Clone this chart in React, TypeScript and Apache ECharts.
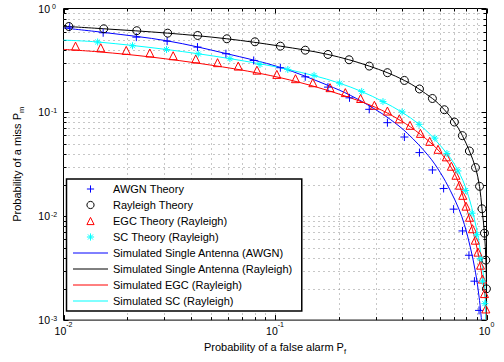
import React, { useEffect, useRef } from 'react';
import * as echarts from 'echarts';

// ---------------- data (Pf, Pm) ----------------
const legendNames = [
  'AWGN Theory',
  'Rayleigh Theory',
  'EGC Theory (Rayleigh)',
  'SC Theory (Rayleigh)',
  'Simulated Single Antenna (AWGN)',
  'Simulated Single Antenna (Rayleigh)',
  'Simulated EGC (Rayleigh)',
  'Simulated SC (Rayleigh)',
];

const awgnTheory = [
  [0.0107, 0.661], [0.0154, 0.584], [0.0221, 0.53], [0.0309, 0.485], [0.043, 0.425],
  [0.0586, 0.367], [0.0793, 0.316], [0.106, 0.269], [0.139, 0.22], [0.178, 0.175],
  [0.225, 0.138], [0.279, 0.107], [0.34, 0.0796], [0.409, 0.0579], [0.482, 0.041],
  [0.555, 0.0279], [0.627, 0.0185], [0.699, 0.0117], [0.77, 0.00722], [0.826, 0.00421],
  [0.877, 0.00237], [0.922, 0.00124],
];

const rayleighTheory = [
  [0.0106, 0.671], [0.0155, 0.638], [0.0222, 0.611], [0.0311, 0.579], [0.0431, 0.55],
  [0.0592, 0.511], [0.0804, 0.478], [0.106, 0.434], [0.139, 0.397], [0.178, 0.361],
  [0.224, 0.321], [0.279, 0.279], [0.34, 0.241], [0.409, 0.203], [0.482, 0.168],
  [0.555, 0.136], [0.632, 0.106], [0.705, 0.0807], [0.769, 0.0597], [0.83, 0.0425],
  [0.887, 0.0294], [0.927, 0.0194], [0.952, 0.0118], [0.978, 0.00687], [0.993, 0.00378],
  [0.999, 0.002],
];

const egcTheory = [
  [0.0114, 0.434], [0.015, 0.419], [0.0198, 0.395], [0.0256, 0.373], [0.033, 0.351],
  [0.0422, 0.327], [0.0535, 0.301], [0.067, 0.279], [0.0822, 0.255], [0.102, 0.232],
  [0.125, 0.211], [0.151, 0.193], [0.182, 0.173], [0.215, 0.155], [0.254, 0.136],
  [0.295, 0.117], [0.34, 0.103], [0.387, 0.0866], [0.435, 0.075], [0.487, 0.0628],
  [0.539, 0.0526], [0.59, 0.0441], [0.646, 0.0373], [0.682, 0.0303], [0.717, 0.0248],
  [0.745, 0.0199], [0.772, 0.0159], [0.8, 0.0125], [0.831, 0.00978], [0.858, 0.00758],
  [0.885, 0.00588], [0.911, 0.00451], [0.937, 0.00338], [0.957, 0.00248], [0.978, 0.0018],
  [0.993, 0.00128],
];

const scTheory = [
  [0.0145, 0.476], [0.0212, 0.438], [0.0307, 0.403], [0.0434, 0.365], [0.0612, 0.329],
  [0.0849, 0.289], [0.115, 0.259], [0.153, 0.227], [0.202, 0.191], [0.257, 0.159],
  [0.324, 0.127], [0.399, 0.101], [0.48, 0.0767], [0.57, 0.0565], [0.65, 0.0402],
  [0.733, 0.0273], [0.797, 0.0177], [0.854, 0.0107], [0.897, 0.00664], [0.932, 0.0039],
  [0.957, 0.00237], [0.982, 0.00144],
];

const awgnSim = [
  [0.01, 0.649], [0.0155, 0.588], [0.0311, 0.487], [0.0585, 0.369], [0.106, 0.271],
  [0.178, 0.182], [0.227, 0.146], [0.291, 0.11], [0.351, 0.0855], [0.422, 0.063],
  [0.531, 0.0383], [0.605, 0.0263], [0.675, 0.0176], [0.741, 0.0117], [0.786, 0.00832],
  [0.84, 0.00495], [0.887, 0.00289], [0.923, 0.00166], [0.947, 0.001],
];

const rayleighSim = [
  [0.01, 0.675], [0.0155, 0.638], [0.0311, 0.579], [0.0592, 0.511], [0.106, 0.434],
  [0.178, 0.361], [0.279, 0.279], [0.409, 0.203], [0.555, 0.136], [0.632, 0.106],
  [0.705, 0.0807], [0.769, 0.0597], [0.83, 0.0425], [0.887, 0.0294], [0.927, 0.0194],
  [0.952, 0.0118], [0.978, 0.00687], [0.993, 0.00378], [0.999, 0.002], [0.9998, 0.001],
];

const egcSim = [
  [0.01, 0.404], [0.0148, 0.382], [0.0256, 0.342], [0.0492, 0.286], [0.0849, 0.237],
  [0.131, 0.194], [0.203, 0.149], [0.298, 0.112], [0.391, 0.0838], [0.487, 0.0614],
  [0.605, 0.0412], [0.713, 0.0248], [0.795, 0.013], [0.858, 0.0075], [0.917, 0.00422],
  [0.957, 0.00248], [0.989, 0.00159], [0.998, 0.001],
];

const scSim = [
  [0.01, 0.496], [0.0145, 0.476], [0.0307, 0.403], [0.0612, 0.329], [0.115, 0.259],
  [0.202, 0.191], [0.324, 0.127], [0.48, 0.0767], [0.65, 0.0402], [0.753, 0.0248],
  [0.822, 0.0156], [0.877, 0.00936], [0.922, 0.00562], [0.957, 0.00323], [0.982, 0.00199],
  [0.993, 0.001],
];

// ---------------- ticks / grid ----------------
const xTickExponents = ['-2', '-1', '0'];
const yTickExponents = ['-3', '-2', '-1', '0'];
const xMajorTicks = [0.01, 0.1, 1];
const xMinorTicks = [0.02, 0.03, 0.04, 0.05, 0.06, 0.07, 0.08, 0.09, 0.2, 0.3, 0.4, 0.5, 0.6, 0.7, 0.8, 0.9];
const yMajorTicks = [0.001, 0.01, 0.1, 1];
const yMinorTicks = [
  0.002, 0.003, 0.004, 0.005, 0.006, 0.007, 0.008, 0.009,
  0.02, 0.03, 0.04, 0.05, 0.06, 0.07, 0.08, 0.09,
  0.2, 0.3, 0.4, 0.5, 0.6, 0.7, 0.8, 0.9,
];

const FONT = 'Liberation Sans, Arial, Helvetica, sans-serif';
const GRID_COLOR = '#8f8f8f';

const plusPath = 'path://M0,4H8M4,0V8';
const starPath = 'path://M0,4H8M4,0V8M1.2,1.2L6.8,6.8M6.8,1.2L1.2,6.8';

function markerSeries(name: string, data: number[][], symbol: string, size: number | number[], color: string) {
  return {
    name,
    type: 'line',
    data,
    symbol,
    symbolSize: size,
    showSymbol: true,
    showAllSymbol: true,
    silent: true,
    z: 3,
    itemStyle: { color: 'none', borderColor: color, borderWidth: 1 },
    lineStyle: { color, width: 1, opacity: 0 },
  };
}

function lineSeries(name: string, data: number[][], color: string) {
  return {
    name,
    type: 'line',
    data,
    symbol: 'none',
    smooth: 0.35,
    silent: true,
    z: 3,
    itemStyle: { color, opacity: 0 },
    lineStyle: { color, width: 1 },
  };
}

function gridRender(isX: boolean) {
  return (params: any, api: any) => {
    const cs = params.coordSys;
    const p = api.coord([api.value(0), api.value(1)]);
    const major = api.value(2) === 1;
    const len = major ? 5 : 3;
    const children: any[] = [];
    const tickStyle = { stroke: '#000', lineWidth: 1 };
    if (isX) {
      const x = Math.round(p[0]) + 0.5;
      const top = cs.y;
      const bottom = cs.y + cs.height;
      if (x > cs.x + 1 && x < cs.x + cs.width - 1) {
        children.push({ type: 'line', shape: { x1: x, y1: top, x2: x, y2: bottom }, style: { stroke: GRID_COLOR, lineWidth: 1, lineDash: [1, 4] } });
      }
      children.push({ type: 'line', shape: { x1: x, y1: bottom, x2: x, y2: bottom - len }, style: tickStyle });
      children.push({ type: 'line', shape: { x1: x, y1: top, x2: x, y2: top + len }, style: tickStyle });
    } else {
      const y = Math.round(p[1]) + 0.5;
      const left = cs.x;
      const right = cs.x + cs.width;
      if (y > cs.y + 1 && y < cs.y + cs.height - 1) {
        children.push({ type: 'line', shape: { x1: left, y1: y, x2: right, y2: y }, style: { stroke: GRID_COLOR, lineWidth: 1, lineDash: [1, 4] } });
      }
      children.push({ type: 'line', shape: { x1: left, y1: y, x2: left + len, y2: y }, style: tickStyle });
      children.push({ type: 'line', shape: { x1: right, y1: y, x2: right - len, y2: y }, style: tickStyle });
    }
    return { type: 'group', children };
  };
}

export default function App() {
  const ref = useRef<HTMLDivElement>(null);

  useEffect(() => {
    const chart = echarts.init(ref.current as HTMLDivElement, null, { renderer: 'svg' });

    const option: any = {
      animation: false,
      backgroundColor: '#fff',
      textStyle: { fontFamily: FONT },
      grid: {
        left: 63.5,
        top: 8.5,
        right: 17.5,
        bottom: 41.5,
        show: true,
        borderColor: '#000',
        borderWidth: 1,
        backgroundColor: 'transparent',
      },
      xAxis: {
        type: 'log',
        logBase: 10,
        min: 0.01,
        max: 1,
        axisLine: { show: false },
        axisTick: { show: false },
        splitLine: { show: false },
        axisLabel: {
          margin: 1,
          color: '#000',
          formatter: (_v: number, i: number) => `{b|10}{s|${xTickExponents[i]}}`,
          rich: {
            b: { fontSize: 10.5, lineHeight: 11, padding: [8, 0, 0, 0], fontFamily: FONT, color: '#000' },
            s: { fontSize: 7, lineHeight: 10, verticalAlign: 'top', fontFamily: FONT, color: '#000' },
          },
        },
        name: '{a|Probability of a false alarm P}{sub|f}',
        nameLocation: 'middle',
        nameGap: 21,
        nameTextStyle: {
          rich: {
            a: { fontSize: 11, lineHeight: 12, padding: [0, 0, 5, 0], fontFamily: FONT, color: '#000' },
            sub: { fontSize: 7.5, lineHeight: 8, verticalAlign: 'bottom', fontFamily: FONT, color: '#000' },
          },
        },
      },
      yAxis: {
        type: 'log',
        logBase: 10,
        min: 0.001,
        max: 1,
        axisLine: { show: false },
        axisTick: { show: false },
        splitLine: { show: false },
        axisLabel: {
          margin: 5.5,
          color: '#000',
          formatter: (_v: number, i: number) => `{b|10}{s|${yTickExponents[i]}}`,
          rich: {
            b: { fontSize: 10.5, lineHeight: 11, padding: [3, 0, 3, 0], fontFamily: FONT, color: '#000' },
            s: { fontSize: 7, lineHeight: 8, verticalAlign: 'top', width: 8, align: 'left', fontFamily: FONT, color: '#000' },
          },
        },
        name: '{a|Probability of a miss P}{sub|m}',
        nameLocation: 'middle',
        nameGap: 28,
        nameTextStyle: {
          rich: {
            a: { fontSize: 11, lineHeight: 12, padding: [0, 0, 5, 0], fontFamily: FONT, color: '#000' },
            sub: { fontSize: 7.5, lineHeight: 8, verticalAlign: 'bottom', fontFamily: FONT, color: '#000' },
          },
        },
      },
      legend: {
        show: true,
        orient: 'vertical',
        left: 66.5,
        top: 179,
        data: legendNames,
        selectedMode: false,
        backgroundColor: '#fff',
        borderColor: '#000',
        borderWidth: 1.5,
        padding: [3, 9, 3, 6],
        itemWidth: 35,
        itemHeight: 9,
        itemGap: 2,
        itemStyle: { borderWidth: 1 },
        lineStyle: { width: 1 },
        textStyle: { fontFamily: FONT, fontSize: 11, color: '#000', lineHeight: 14 },
      },
      series: [
        {
          type: 'custom',
          coordinateSystem: 'cartesian2d',
          silent: true,
          z: 1,
          renderItem: gridRender(true),
          data: [...xMinorTicks.map((v) => [v, 1, 0]), ...xMajorTicks.map((v) => [v, 1, 1])],
        },
        {
          type: 'custom',
          coordinateSystem: 'cartesian2d',
          silent: true,
          z: 1,
          renderItem: gridRender(false),
          data: [...yMinorTicks.map((v) => [0.01, v, 0]), ...yMajorTicks.map((v) => [0.01, v, 1])],
        },
        markerSeries(legendNames[0], awgnTheory, plusPath, 8, '#0000ff'),
        markerSeries(legendNames[1], rayleighTheory, 'circle', 8, '#000000'),
        markerSeries(legendNames[2], egcTheory, 'triangle', [8, 8], '#ff0000'),
        markerSeries(legendNames[3], scTheory, starPath, 7, '#00ffff'),
        lineSeries(legendNames[4], awgnSim, '#0000ff'),
        lineSeries(legendNames[5], rayleighSim, '#000000'),
        lineSeries(legendNames[6], egcSim, '#ff0000'),
        lineSeries(legendNames[7], scSim, '#00ffff'),
      ],
    };

    chart.setOption(option);
    return () => chart.dispose();
  }, []);

  return <div ref={ref} style={{ position: 'fixed', left: 0, top: 0, width: 504, height: 362 }} />;
}
